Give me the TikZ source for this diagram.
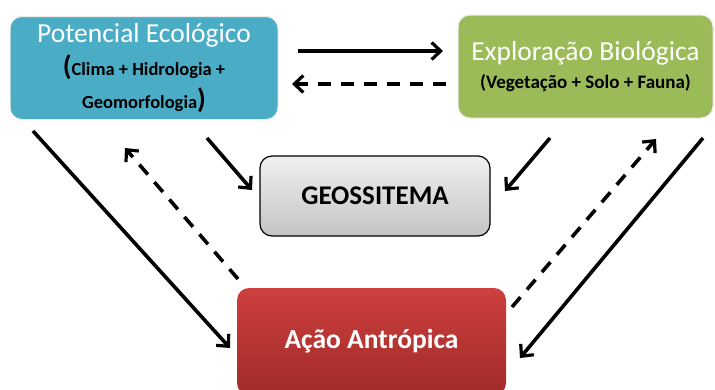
\documentclass[tikz,border=0pt]{standalone}
\usepackage{fontspec}
\setmainfont{Carlito}
\usetikzlibrary{arrows.meta}
\definecolor{aquabox}{RGB}{75,172,198}
\definecolor{greenbox}{RGB}{155,187,89}
\definecolor{redtop}{RGB}{205,64,62}
\definecolor{redbot}{RGB}{160,42,40}
\definecolor{graytop}{RGB}{240,240,240}
\definecolor{graybot}{RGB}{196,196,196}
\begin{document}
\begin{tikzpicture}[x=1pt,y=-1pt,
  box/.style={rounded corners=12pt, inner sep=0pt, align=center},
  arr/.style={line width=3.6pt, -{Straight Barb[length=9pt,width=17pt,line width=3.2pt]}},
  darr/.style={arr, dash pattern=on 13pt off 10pt}]
\useasboundingbox (0,0) rectangle (715,389);

\node[box, fill=aquabox, draw=white!85!gray, line width=1pt, minimum width=268pt, minimum height=103pt] (pe) at (144,68)
 {{\fontsize{27.5}{30}\selectfont\color{white}Potencial Ecológico}\\[7pt]
  {\fontsize{18.5}{22}\selectfont\bfseries{\fontsize{28}{22}\selectfont(}Clima + Hidrologia +}\\[7pt]
  {\fontsize{18.5}{22}\selectfont\bfseries Geomorfologia{\fontsize{28}{22}\selectfont)}}};

\node[box, fill=greenbox, draw=white!85!gray, line width=1pt, minimum width=255pt, minimum height=103pt] (eb) at (585.5,66.5)
 {{\fontsize{27.5}{30}\selectfont\color{white}Exploração Biológica}\\[9pt]
  {\fontsize{19}{22}\selectfont\bfseries(Vegetação + Solo + Fauna)}};

\node[box, draw=black, line width=1.2pt, top color=graytop, bottom color=graybot, minimum width=230pt, minimum height=80pt, font=\fontsize{27}{30}\selectfont\bfseries] (geo) at (375,196) {GEOSSITEMA};

\node[box, top color=redtop, bottom color=redbot, minimum width=269pt, minimum height=107pt, text=white, font=\fontsize{27.5}{30}\selectfont\bfseries] (aa) at (371.5,341.5) {Ação Antrópica};

% connector end points
\coordinate (a1s) at (298,51);  \coordinate (a1e) at (443,51);
\coordinate (a2s) at (446,84);  \coordinate (a2e) at (292,84);
\coordinate (a3s) at (33,131);  \coordinate (a3e) at (230,348);
\coordinate (a4s) at (238,279); \coordinate (a4e) at (125,148);
\coordinate (a5s) at (207,138); \coordinate (a5e) at (252,190);
\coordinate (a6s) at (550,138); \coordinate (a6e) at (505,191);
\coordinate (a7s) at (512,307); \coordinate (a7e) at (656,139);
\coordinate (a8s) at (703,138); \coordinate (a8e) at (520,358);

\draw[arr] (a1s) -- (a1e);
\draw[darr] (a2s) -- (a2e);
\draw[arr] (a3s) -- (a3e);
\draw[darr] (a4s) -- (a4e);
\draw[arr] (a5s) -- (a5e);
\draw[arr] (a6s) -- (a6e);
\draw[darr] (a7s) -- (a7e);
\draw[arr] (a8s) -- (a8e);
\end{tikzpicture}
\end{document}
